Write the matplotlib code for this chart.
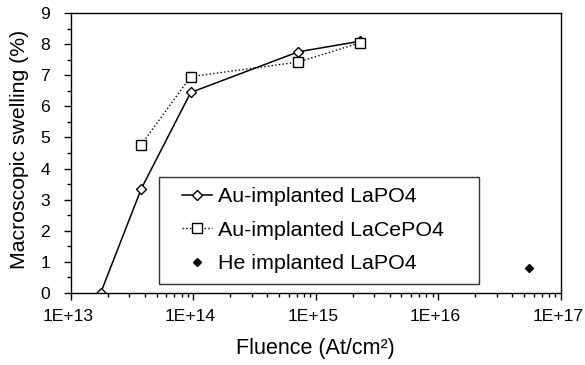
import numpy as np
import matplotlib.pyplot as plt
import matplotlib.transforms as mtransforms
from matplotlib.lines import Line2D
from matplotlib.legend_handler import HandlerLine2D
from matplotlib.ticker import LogLocator, MultipleLocator, NullFormatter

plt.rcParams['font.family'] = ['Liberation Sans', 'DejaVu Sans']

# Au-implanted LaPO4
fluence_lapo4 = [1.75e13, 3.75e13, 9.5e13, 7.2e14, 2.3e15]
swell_lapo4 = [0.0, 3.35, 6.45, 7.76, 8.1]

# Au-implanted LaCePO4
fluence_lacepo4 = [3.75e13, 9.5e13, 7.2e14, 2.3e15]
swell_lacepo4 = [4.77, 6.96, 7.43, 8.05]

# He implanted LaPO4
fluence_he = [5.5e16]
swell_he = [0.81]

xtick_vals = [1e13, 1e14, 1e15, 1e16, 1e17]
xtick_labels = ['1E+13', '1E+14', '1E+15', '1E+16', '1E+17']

fig = plt.figure(figsize=(5.85, 3.65), dpi=100)
ax = fig.add_axes([0.1214, 0.198, 0.8371, 0.7656])

ax.plot(fluence_lapo4, swell_lapo4, '-', color='black', lw=1.1,
        marker='D', ms=5.5, mfc='white', mec='black', mew=1.0,
        label='Au-implanted LaPO4')
ax.plot(fluence_lacepo4, swell_lacepo4, ':', color='black', lw=1.0,
        marker='s', ms=7, mfc='white', mec='black', mew=1.0,
        label='Au-implanted LaCePO4')
ax.plot(fluence_he, swell_he, 'D', color='black', ms=4.5,
        label='He implanted LaPO4')

ax.set_xscale('log')
ax.set_xlim(1e13, 1e17)
ax.set_ylim(0, 9)
ax.set_xticks(xtick_vals)
ax.set_xticklabels(xtick_labels)
ax.xaxis.set_minor_locator(LogLocator(base=10, subs=np.arange(2, 10), numticks=20))
ax.xaxis.set_minor_formatter(NullFormatter())
ax.yaxis.set_major_locator(MultipleLocator(1))
ax.yaxis.set_minor_locator(MultipleLocator(0.5))

ax.tick_params(which='major', direction='out', length=5, width=1.0, labelsize=12.6)
ax.tick_params(which='minor', direction='out', length=3, width=1.0)
ax.tick_params(axis='x', pad=7)
ax.tick_params(axis='y', pad=10)

# nudge x tick labels a bit left so the last one stays inside the figure
shift = mtransforms.ScaledTranslation(-3 / 100, 0, fig.dpi_scale_trans)
for lbl in ax.get_xticklabels():
    lbl.set_transform(lbl.get_transform() + shift)

for s in ax.spines.values():
    s.set_linewidth(1.0)

ax.set_xlabel('Fluence (At/cm\u00b2)', fontsize=15.5, labelpad=10)
ax.set_ylabel('Macroscopic swelling (%)', fontsize=15.3)
ax.yaxis.set_label_coords(-0.086, 0.513)

# legend handles start a bit further in, like the original
leg = ax.legend(loc='lower left', bbox_to_anchor=(0.18, 0.031, 0.6535, 0.3),
                mode='expand', fontsize=15.4,
                frameon=True, fancybox=False, edgecolor='black',
                handlelength=1.98, handletextpad=0.28, labelspacing=0.68,
                borderpad=0.5, borderaxespad=0,
                handler_map={Line2D: HandlerLine2D(xpad=0.575)})
leg.get_frame().set_linewidth(1.0)

fig.savefig('out.png', dpi=100)
